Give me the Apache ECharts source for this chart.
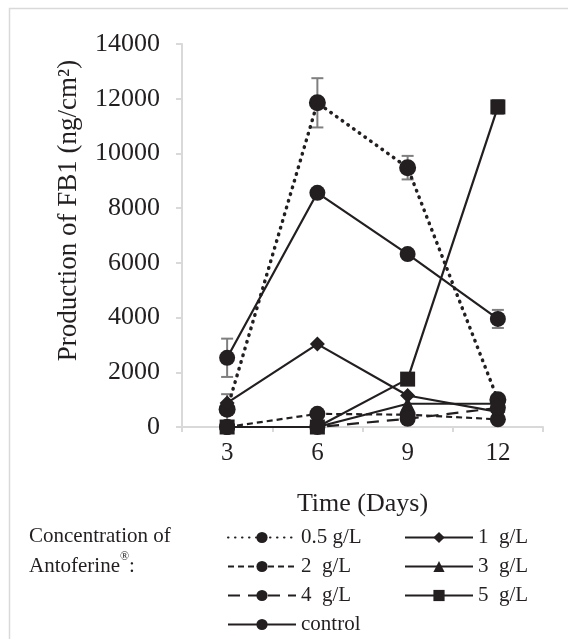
<!DOCTYPE html>
<html>
<head>
<meta charset="utf-8">
<script src="https://cdn.jsdelivr.net/npm/echarts@6/dist/echarts.min.js"></script>
<style>
  html, body { margin: 0; padding: 0; background: #fff; }
  #chart { width: 568px; height: 639px; }
</style>
</head>
<body>
<div id="chart"></div>
<script>
// Time points (days)
const days = ['3', '6', '9', '12'];

// FB1 production (ng/cm2) per Antoferine concentration
const conc05 = [650, 11850, 9480, 1000];
const conc1 = [880, 3030, 1150, 550];
const conc2 = [0, 480, 450, 280];
const conc3 = [0, 0, 850, 850];
const conc4 = [0, 0, 300, 700];
const conc5 = [0, 0, 1750, 11700];
const control = [2530, 8560, 6320, 3950];

// Error bars (+/-)
const err05 = [550, 900, 430, 0];
const err5 = [0, 0, 0, 250];
const errControl = [700, 0, 0, 330];

const yTicks = [0, 2000, 4000, 6000, 8000, 10000, 12000, 14000];

const ink = '#231f20';
const serif = 'Liberation Serif';

const chart = echarts.init(document.getElementById('chart'));

const lineSeries = (name, data, symbol, size, type) => ({
    name: name,
    type: 'line',
    data: data,
    symbol: symbol,
    symbolSize: size,
    showAllSymbol: true,
    lineStyle: { color: ink, width: type === 'dotted' ? 3.5 : 2.2, type: type === 'dotted' ? [0.5, 6.5] : (type || 'solid'), cap: type === 'dotted' ? 'round' : 'butt' },
    itemStyle: { color: ink },
    z: 3,
});

// build error bar points from values and errors
const errData = (vals, errs) => vals.map((v, i) => [i, v, errs[i]]).filter(d => d[2] > 0);

const errSeries = (vals, errs) => ({
    type: 'custom',
    data: errData(vals, errs),
    z: 2,
    silent: true,
    renderItem: (params, api) => {
        const x = api.value(0);
        const v = api.value(1);
        const e = api.value(2);
        const top = api.coord([x, v + e]);
        const bot = api.coord([x, v - e]);
        const cap = 6;
        const st = { stroke: '#7f7f7f', lineWidth: 2 };
        return {
            type: 'group',
            children: [
                { type: 'line', shape: { x1: top[0], y1: top[1], x2: bot[0], y2: bot[1] }, style: st },
                { type: 'line', shape: { x1: top[0] - cap, y1: top[1], x2: top[0] + cap, y2: top[1] }, style: st },
                { type: 'line', shape: { x1: bot[0] - cap, y1: bot[1], x2: bot[0] + cap, y2: bot[1] }, style: st },
            ],
        };
    },
});

const legendCommon = {
    orient: 'vertical',
    padding: 0,
    height: 120,
    itemWidth: 68,
    itemHeight: 14,
    itemGap: 8,
    textStyle: { fontFamily: serif, fontSize: 21, color: ink, lineHeight: 21 },
    selectedMode: false,
};

const option = {
    animation: false,
    backgroundColor: '#fff',
    graphic: [{
        type: 'rect',
        shape: { x: 9.5, y: 8.5, width: 700, height: 700 },
        style: { fill: 'none', stroke: '#d9d9d9', lineWidth: 1.5 },
        z: -1,
    }],
    title: {
        text: 'Concentration of\nAntoferine{s|®}:',
        left: 29,
        top: 521,
        padding: 0,
        textStyle: {
            fontFamily: serif, fontSize: 21, fontWeight: 'normal', color: ink, lineHeight: 30,
            rich: { s: { fontFamily: serif, fontSize: 12, color: ink, verticalAlign: 'top', lineHeight: 26 } },
        },
    },
    legend: [
        Object.assign({}, legendCommon, { left: 227, top: 527, data: ['0.5 g/L', '2  g/L', '4  g/L', 'control'] }),
        Object.assign({}, legendCommon, { left: 404, top: 527, data: ['1  g/L', '3  g/L', '5  g/L'] }),
    ],
    grid: { left: 182, right: 25, top: 44, bottom: 212 },
    xAxis: {
        type: 'category',
        data: days,
        boundaryGap: true,
        name: 'Time (Days)',
        nameLocation: 'middle',
        nameGap: 64,
        nameTextStyle: { fontFamily: serif, fontSize: 26, color: ink },
        axisLine: { lineStyle: { color: '#d9d9d9', width: 2 } },
        axisTick: { show: true, length: 5, lineStyle: { color: '#d9d9d9', width: 2 } },
        axisLabel: { fontFamily: serif, fontSize: 25, color: ink, margin: 14 },
    },
    yAxis: {
        type: 'value',
        min: yTicks[0],
        max: yTicks[yTicks.length - 1],
        interval: 2000,
        name: 'Production of FB1 (ng/cm²)',
        nameLocation: 'middle',
        nameGap: 100,
        nameTextStyle: { fontFamily: serif, fontSize: 27, color: ink, padding: [0, 0, 0, 50] },
        axisLine: { show: true, lineStyle: { color: '#d9d9d9', width: 2 } },
        axisTick: { show: true, length: 6, lineStyle: { color: '#d9d9d9', width: 2 } },
        axisLabel: { fontFamily: serif, fontSize: 26, color: ink, margin: 22, formatter: v => String(v) },
        splitLine: { show: false },
    },
    series: [
        lineSeries('0.5 g/L', conc05, 'circle', 17, 'dotted'),
        lineSeries('1  g/L', conc1, 'diamond', 15, 'solid'),
        lineSeries('2  g/L', conc2, 'circle', 16, [6, 4]),
        lineSeries('3  g/L', conc3, 'triangle', 14, 'solid'),
        lineSeries('4  g/L', conc4, 'circle', 16, [12, 8]),
        lineSeries('5  g/L', conc5, 'rect', 15, 'solid'),
        lineSeries('control', control, 'circle', 16, 'solid'),
        errSeries(conc05, err05),
        errSeries(conc5, err5),
        errSeries(control, errControl),
    ],
};

chart.setOption(option);
</script>
</body>
</html>
